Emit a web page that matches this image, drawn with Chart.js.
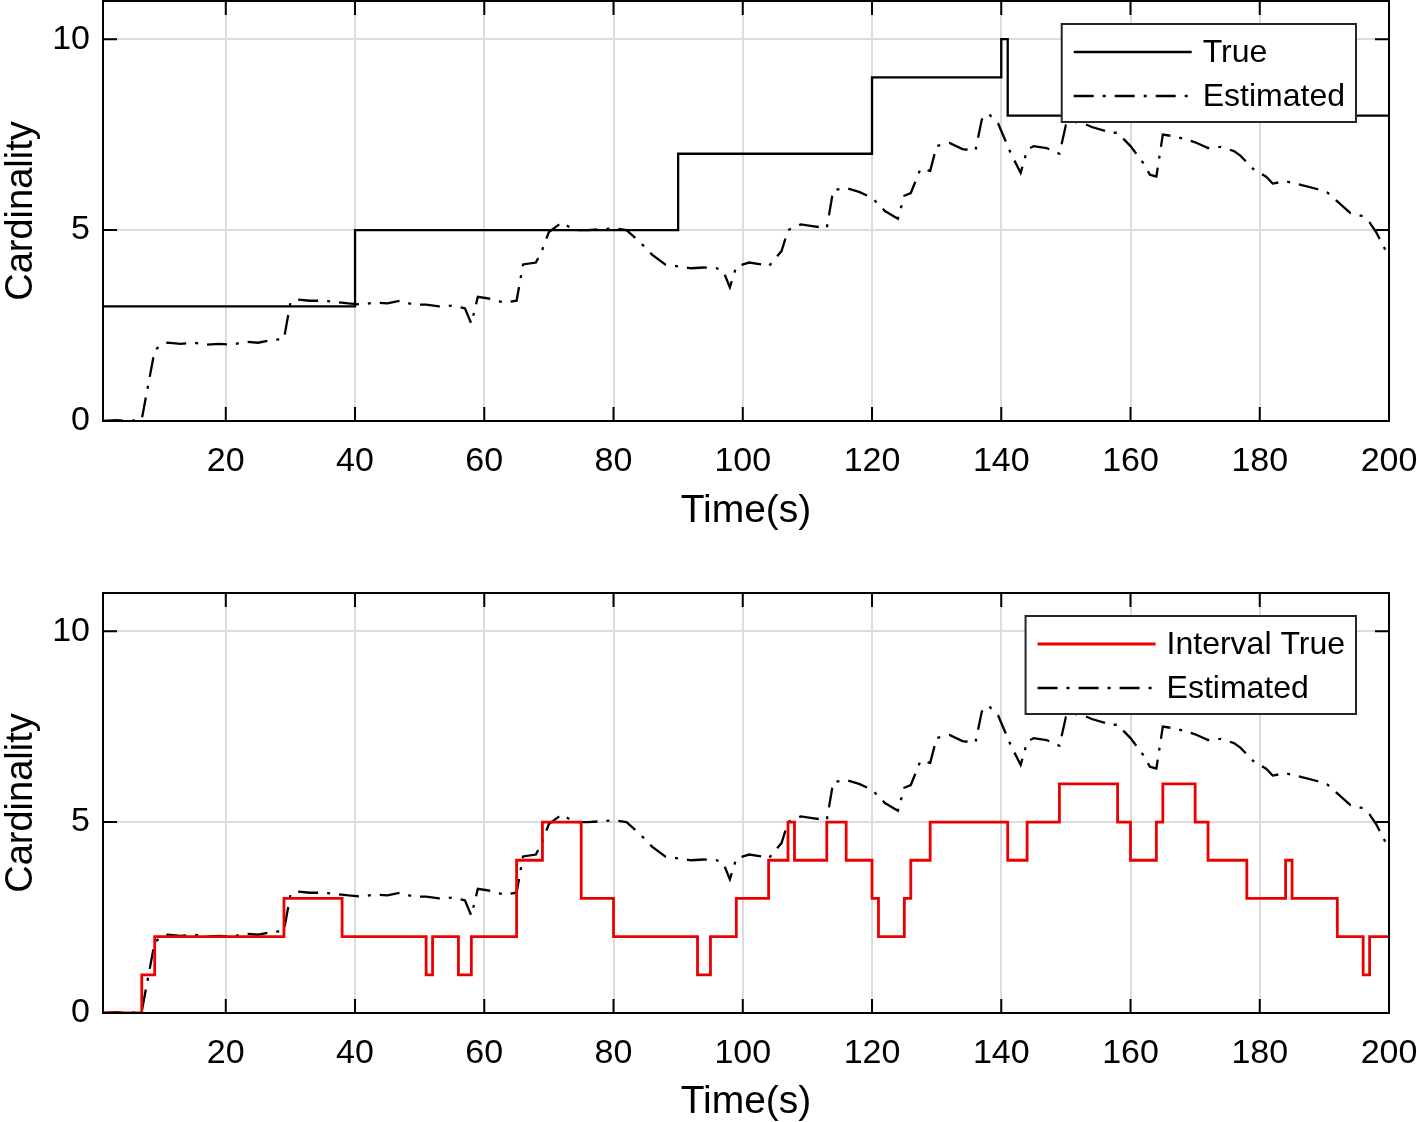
<!DOCTYPE html>
<html><head><meta charset="utf-8">
<script src="https://cdn.jsdelivr.net/npm/chart.js@4.4.1/dist/chart.umd.min.js"></script>
<style>
html,body{margin:0;padding:0;background:#fff;}
#wrap{position:relative;width:1417px;height:1122px;background:#fff;}
.panel{position:absolute;left:0;width:1417px;height:561px;}
</style></head><body>
<div id="wrap">
<div class="panel" style="top:0"><canvas id="c1"></canvas></div>
<div class="panel" style="top:561px"><canvas id="c2"></canvas></div>
</div>
<script>
// ---- data ----
const xTicks = [20, 40, 60, 80, 100, 120, 140, 160, 180, 200];
const yTicks = [0, 5, 10];

const trueT = [1, 40, 90, 120, 140, 141, 200];
const trueV = [3, 5, 7, 9, 10, 8, 8];

const intervalT = [1,7,9,29,38,51,52,56,58,65,69,75,80,93,95,99,104,107,108,113,116,120,121,125,126,129,141,144,149,158,160,164,165,170,172,178,184,185,192,196,197,200];
const intervalV = [0,1,2,3,2,1,2,1,2,4,5,3,2,1,2,3,4,5,4,5,4,3,2,3,4,5,4,5,6,5,4,5,6,5,4,3,4,3,2,1,2,2];

const estT = [1,3,5,6.5,7,9,10,11,13,15,17,19,21,23,25,27,29,30,31,33,35,37,39,41,43,45,47,49,51,53,55,57,58,59,61,63,65,66,68,69,70,72,74,76,78,80,82,84,86,88,90,92,94,96,97,98,99,101,103,104,105,106,107,109,111,113,114,116,118,120,122,124,125,126,127.5,129,130,132,134,136,137,138,139.5,140.5,141.5,143,144,145,147,149,150,152,154,157,158,160,162,163,164,165,167,170,172,174,176,177,179,181,182,184,186,189,190.5,192,194,196,197,198,200];
const estV = [0,0.02,0,0.02,0.05,1.85,2.0,2.05,2.02,2.05,2.0,2.02,2.0,2.08,2.05,2.12,2.15,3.1,3.18,3.15,3.15,3.12,3.08,3.05,3.1,3.08,3.15,3.05,3.05,3.0,3.02,2.95,2.55,3.25,3.2,3.1,3.15,4.1,4.15,4.5,4.95,5.2,5.0,5.0,5.02,5.05,5.0,4.7,4.35,4.1,4.05,4.0,4.02,4.0,3.92,3.5,4.05,4.15,4.1,4.05,4.25,4.45,5.0,5.15,5.1,5.05,6.05,6.1,6.0,5.85,5.5,5.3,5.9,5.97,6.6,6.55,7.2,7.28,7.12,7.08,7.9,8.05,7.8,7.4,7.0,6.5,7.1,7.2,7.15,7.0,7.75,7.85,7.7,7.55,7.55,7.2,6.75,6.45,6.4,7.5,7.45,7.3,7.15,7.18,7.07,6.95,6.6,6.4,6.22,6.28,6.2,6.07,5.98,5.75,5.45,5.36,5.2,4.95,4.3];

const xMin = 1, xMax = 200, yMin = 0, yMax = 11;

const pts = (t, v) => t.map((x, i) => ({x: x, y: v[i]}));
const FONT = "'Liberation Sans', Arial, Helvetica, sans-serif";
const DASHDOT = [20, 9, 3, 9];

const framePlugin = {
  id: 'frame',
  afterDatasetsDraw(chart) {
    const {ctx, chartArea: a, scales: {x, y}} = chart;
    ctx.save();
    ctx.strokeStyle = '#000';
    ctx.lineWidth = 2;
    const L = 14;
    ctx.beginPath();
    x.ticks.forEach(t => {
      const px = x.getPixelForValue(t.value);
      ctx.moveTo(px, a.bottom); ctx.lineTo(px, a.bottom - L);
      ctx.moveTo(px, a.top); ctx.lineTo(px, a.top + L);
    });
    y.ticks.forEach(t => {
      const py = y.getPixelForValue(t.value);
      ctx.moveTo(a.left, py); ctx.lineTo(a.left + L, py);
      ctx.moveTo(a.right, py); ctx.lineTo(a.right - L, py);
    });
    ctx.stroke();
    ctx.strokeRect(a.left, a.top, a.right - a.left, a.bottom - a.top);

    // legend box
    const ds = chart.data.datasets;
    ctx.font = '32px ' + FONT;
    let tw = 0;
    ds.forEach(d => { tw = Math.max(tw, ctx.measureText(d.label).width); });
    const padL = 12, lineLen = 118, gap = 11, padR = 11;
    const w = padL + lineLen + gap + tw + padR;
    const h = 98;
    const bx = a.right - 33 - w;
    const by = a.top + 23;
    ctx.fillStyle = '#fff';
    ctx.fillRect(bx, by, w, h);
    ctx.strokeStyle = '#262626';
    ctx.lineWidth = 2;
    ctx.strokeRect(bx, by, w, h);
    const rows = [28, 72];
    ds.forEach((d, i) => {
      const ry = by + rows[i];
      ctx.save();
      ctx.strokeStyle = d.borderColor;
      ctx.lineWidth = d.borderWidth;
      ctx.setLineDash(d.borderDash || []);
      ctx.beginPath();
      ctx.moveTo(bx + padL, ry);
      ctx.lineTo(bx + padL + lineLen, ry);
      ctx.stroke();
      ctx.restore();
      ctx.fillStyle = '#000';
      ctx.textBaseline = 'middle';
      ctx.textAlign = 'left';
      ctx.fillText(d.label, bx + padL + lineLen + gap, ry + 1);
    });
    ctx.restore();
  }
};

function makeChart(id, datasets, padTop, padBottom, axisH) {
  return new Chart(document.getElementById(id), {
    type: 'line',
    data: {datasets: datasets},
    options: {
      responsive: true,
      maintainAspectRatio: false,
      animation: false,
      layout: {padding: {top: padTop, bottom: padBottom, left: 0, right: 28}},
      plugins: {legend: {display: false}, tooltip: {enabled: false}},
      elements: {point: {radius: 0}, line: {tension: 0}},
      scales: {
        x: {
          type: 'linear', min: xMin, max: xMax,
          afterBuildTicks: s => { s.ticks = xTicks.map(v => ({value: v})); },
          afterFit: s => { s.height = axisH; s.paddingLeft = 0; s.paddingRight = 0; s.paddingTop = 0; s.paddingBottom = 0; },
          grid: {color: '#dcdcdc', lineWidth: 2, drawTicks: false},
          border: {display: false},
          ticks: {padding: 20, color: '#000', maxRotation: 0, autoSkip: false, font: {family: FONT, size: 34}},
          title: {display: true, text: 'Time(s)', color: '#000', padding: 0, font: {family: FONT, size: 39, lineHeight: 1.0}}
        },
        y: {
          type: 'linear', min: yMin, max: yMax,
          afterBuildTicks: s => { s.ticks = yTicks.map(v => ({value: v})); },
          afterFit: s => { s.width = 103; s.paddingLeft = 0; s.paddingRight = 0; s.paddingTop = 0; s.paddingBottom = 0; },
          grid: {color: '#dcdcdc', lineWidth: 2, drawTicks: false},
          border: {display: false},
          ticks: {padding: 13, color: '#000', font: {family: FONT, size: 34}},
          title: {display: true, text: 'Cardinality', color: '#000', padding: 0, font: {family: FONT, size: 38, lineHeight: 1.15}}
        }
      }
    },
    plugins: [framePlugin]
  });
}

makeChart('c1', [
  {label: 'True', data: pts(trueT, trueV), borderColor: '#000', borderWidth: 2.3, stepped: 'before', fill: false},
  {label: 'Estimated', data: pts(estT, estV), borderColor: '#000', borderWidth: 2.3, borderDash: DASHDOT, fill: false}
], 1, 30, 110);

makeChart('c2', [
  {label: 'Interval True', data: pts(intervalT, intervalV), borderColor: 'rgb(235,0,0)', borderWidth: 2.8, stepped: 'before', fill: false},
  {label: 'Estimated', data: pts(estT, estV), borderColor: '#000', borderWidth: 2.3, borderDash: DASHDOT, fill: false}
], 32, 0, 109);
</script>
</body></html>
